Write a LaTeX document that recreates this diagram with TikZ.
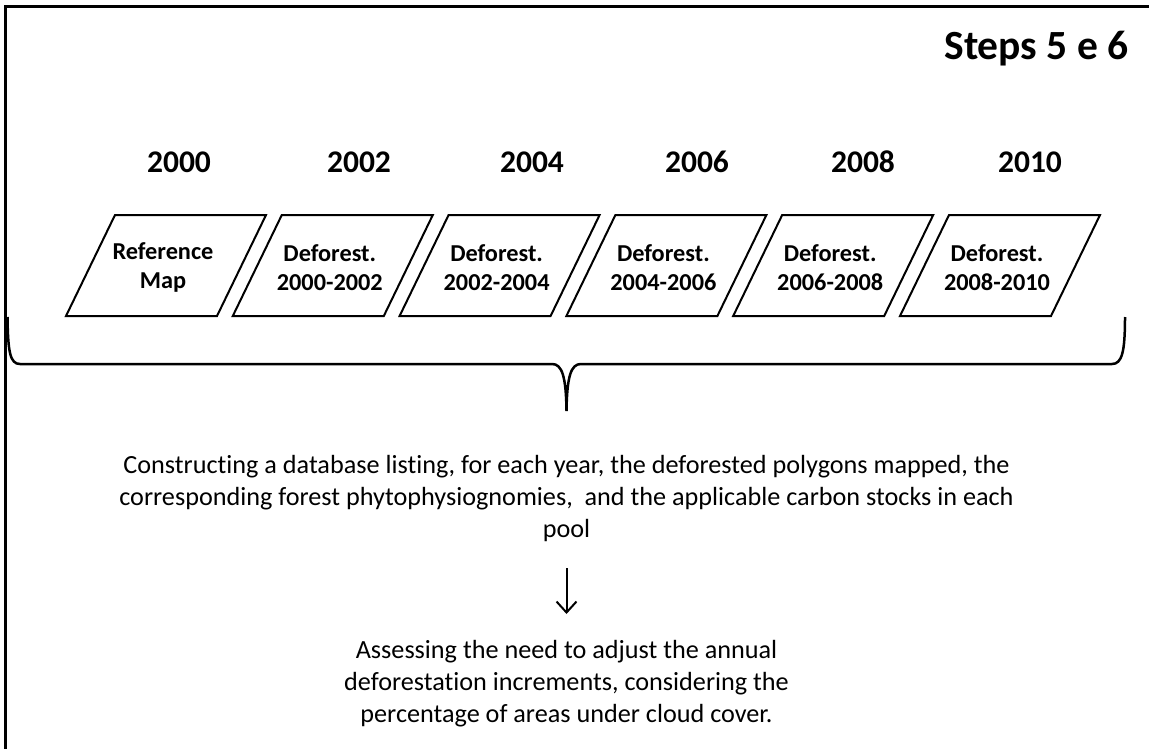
\documentclass[tikz,border=0pt]{standalone}
\usepackage{fontspec}
\setmainfont[Ligatures=NoCommon]{Carlito}
\usetikzlibrary{arrows.meta}
\tikzset{
  frameline/.style={line width=2.5pt},
  para/.style={line width=2pt, line join=miter},
  yearlbl/.style={font=\bfseries\fontsize{31.5}{36}\selectfont, anchor=base, inner sep=0pt},
  boxtext/.style={font=\bfseries\fontsize{24.3}{29}\selectfont, align=center, inner sep=0pt},
  bodytext/.style={font=\fontsize{26.2}{32}\selectfont, align=center, inner sep=0pt},
  bracestyle/.style={line width=2.5pt},
  arr/.style={line width=2pt, -{Straight Barb[length=11pt,width=20pt,line width=2pt]}}
}
\begin{document}
\begin{tikzpicture}[x=1pt,y=-1pt]
\useasboundingbox (0,0) rectangle (1149,749);
% frame
\draw[frameline] (5.5,749) -- (5.5,6.5) -- (1149,6.5);
% title
\node[font=\bfseries\fontsize{41.5}{48}\selectfont, anchor=base, inner sep=0pt] (title) at (1036.5,60) {Steps 5 e 6};
% years
\node[yearlbl] (y0) at (179,172) {2000};
\node[yearlbl] (y1) at (359,172) {2002};
\node[yearlbl] (y2) at (532,172) {2004};
\node[yearlbl] (y3) at (697,172) {2006};
\node[yearlbl] (y4) at (863,172) {2008};
\node[yearlbl] (y5) at (1030,172) {2010};
% parallelograms
\foreach \i/\t in {0/{Reference\\Map},1/{Deforest.\\2000-2002},2/{Deforest.\\2002-2004},3/{Deforest.\\2004-2006},4/{Deforest.\\2006-2008},5/{Deforest.\\2008-2010}}{
  \pgfmathsetmacro{\bl}{66+166.8*\i}
  \draw[para] (\bl,316) -- (\bl+151,316) -- (\bl+200,215) -- (\bl+49,215) -- cycle;
  \node[boxtext] (b\i) at (\bl+97,267.5) {\t};
}
% brace
\draw[bracestyle] (7.5,317) .. controls (8,352) and (10,364) .. (20,364) -- (552,364)
  .. controls (562,364) and (566,376) .. (566.5,411)
  .. controls (567,376) and (571,364) .. (581,364) -- (1112,364)
  .. controls (1122,364) and (1125,352) .. (1125,317);
% texts
\node[bodytext] (t1) at (566.5,499) {Constructing a database listing, for each year, the deforested polygons mapped, the\\corresponding forest phytophysiognomies,\ \ and the applicable carbon stocks in each\\pool};
\node[bodytext] (t2) at (566.5,684) {Assessing the need to adjust the annual\\deforestation increments, considering the\\percentage of areas under cloud cover.};
\coordinate (a1) at (566.5,568);
\coordinate (a2) at (566.5,614);
\draw[arr] (a1) -- (a2);
\end{tikzpicture}
\end{document}
